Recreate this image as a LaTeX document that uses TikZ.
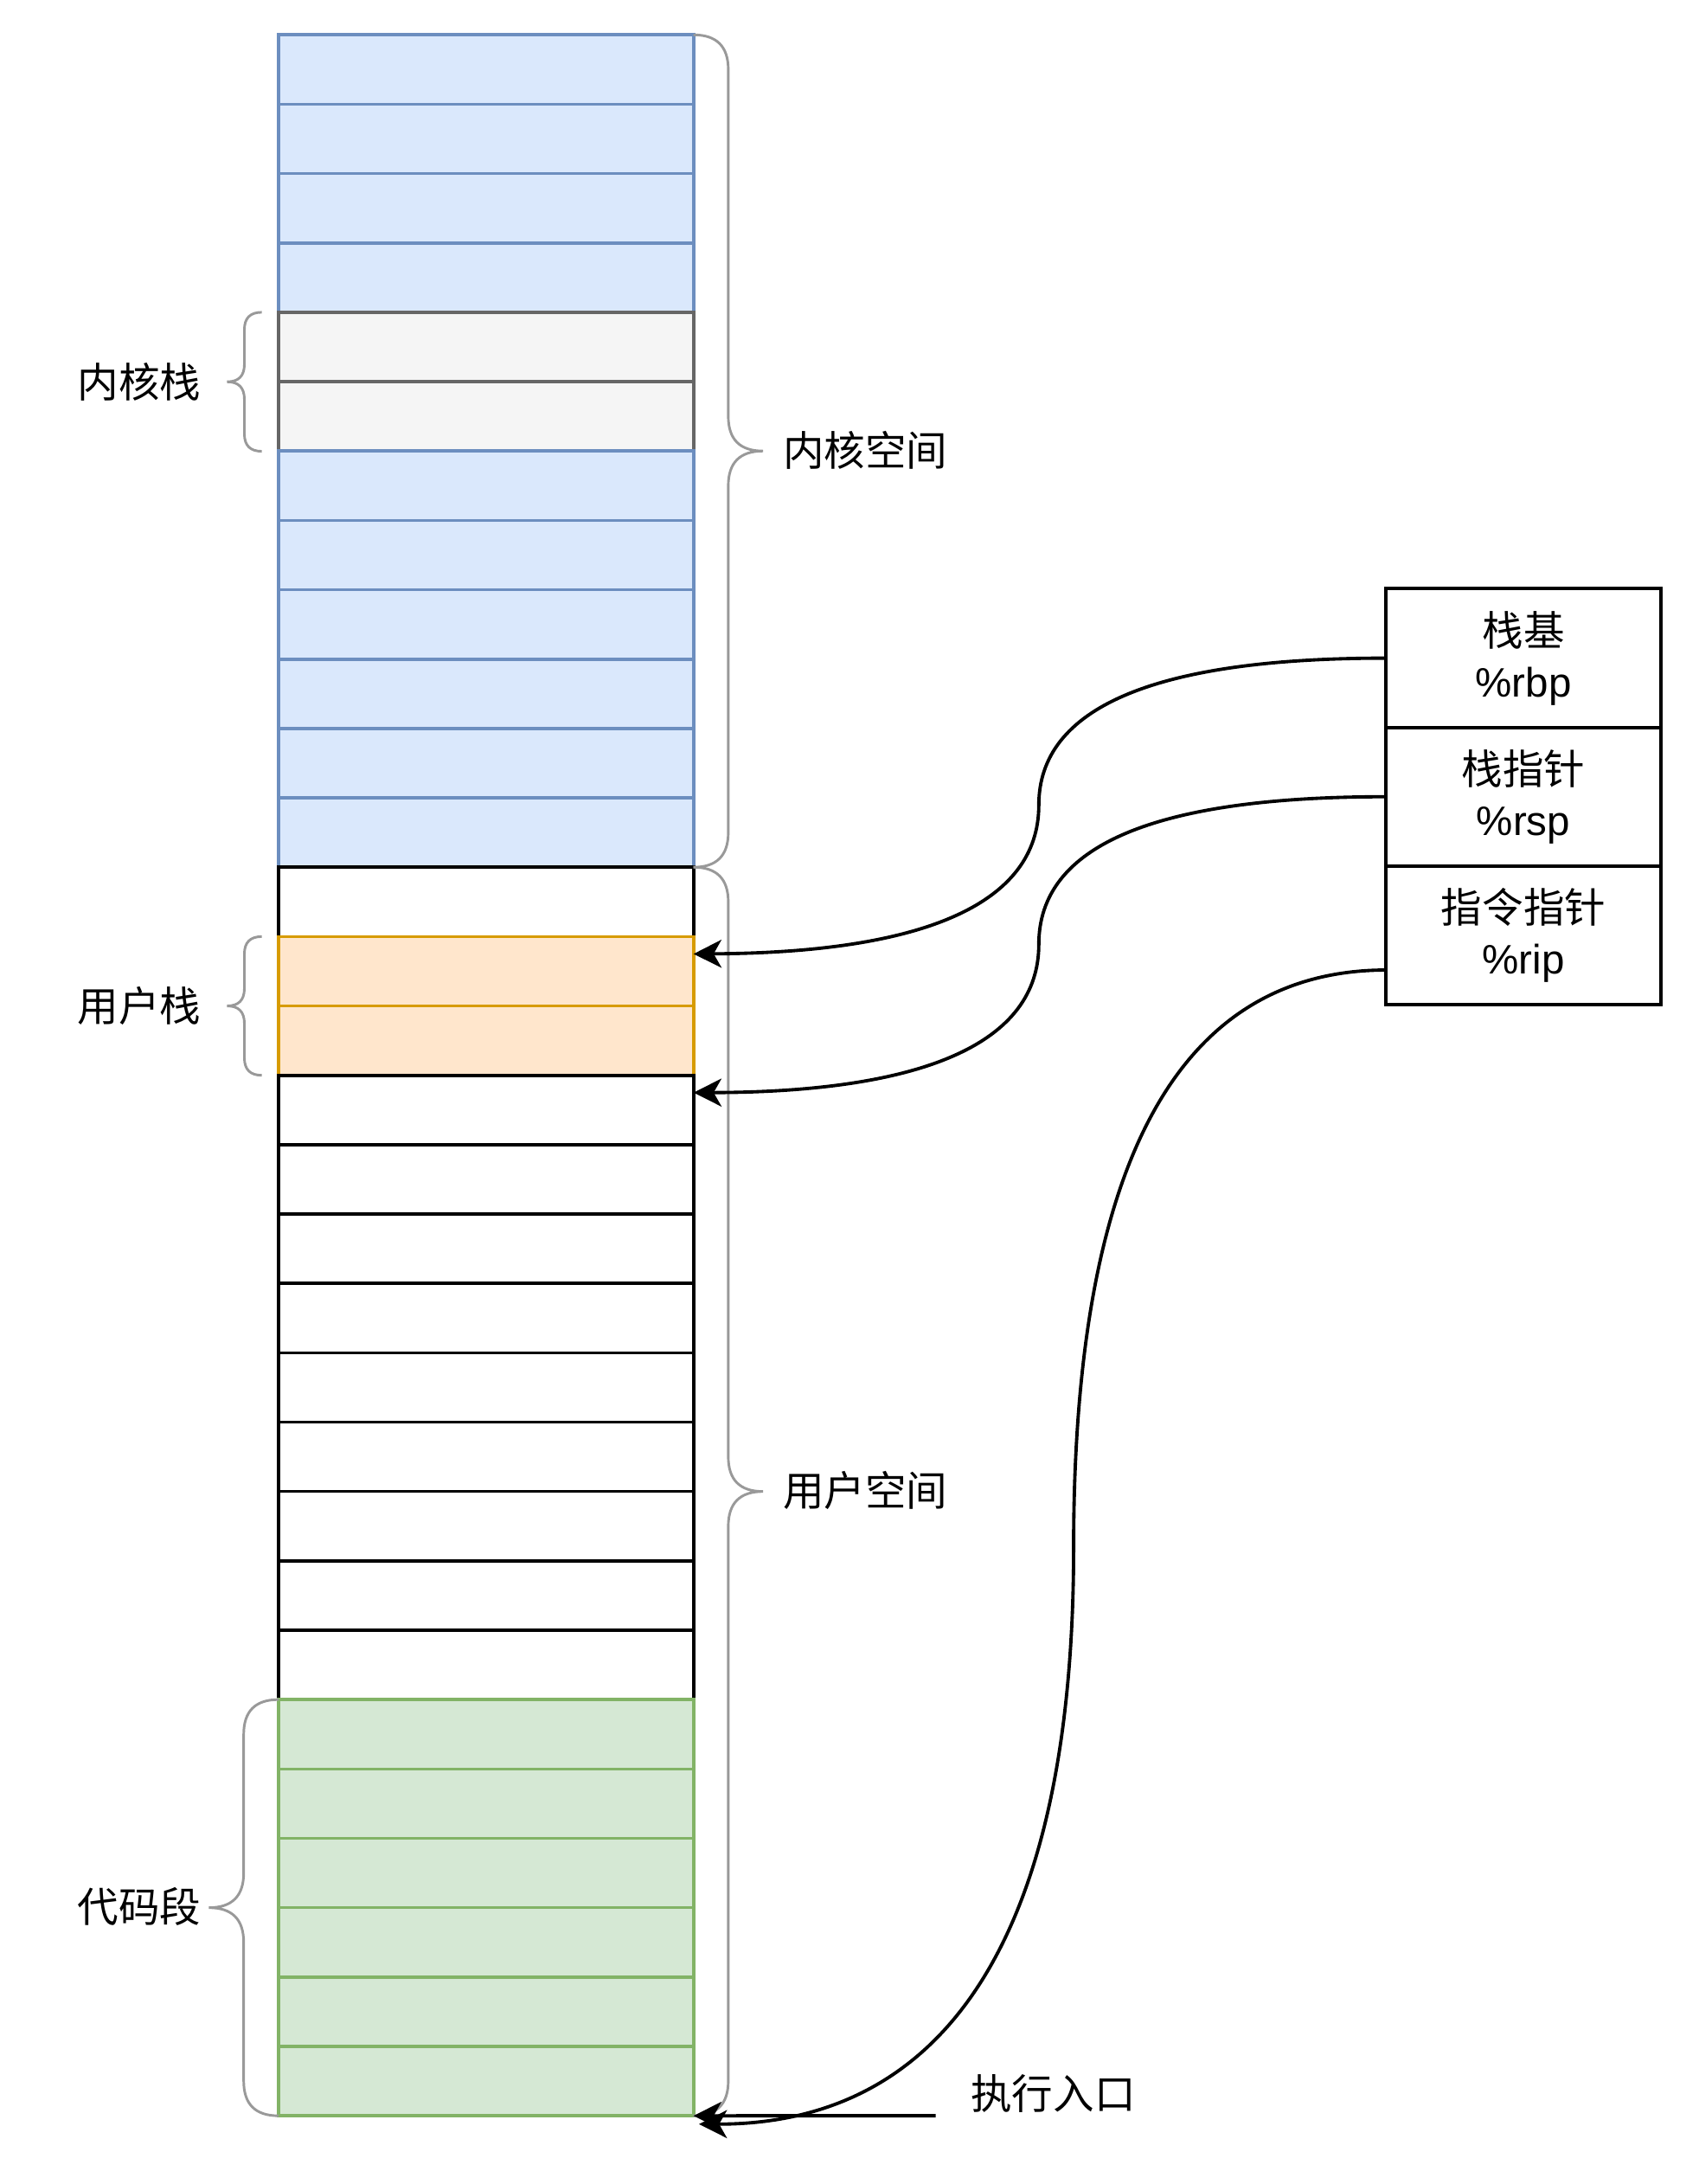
\documentclass[tikz,border=0pt]{standalone}
\usepackage{fontspec}
\setmainfont{Liberation Sans}
\newfontfamily\cjk{Noto Sans CJK SC}
\usetikzlibrary{arrows.meta,calc}

\definecolor{kfill}{HTML}{DAE8FC}
\definecolor{kline}{HTML}{6C8EBF}
\definecolor{gfill}{HTML}{F5F5F5}
\definecolor{gline}{HTML}{666666}
\definecolor{ofill}{HTML}{FFE6CC}
\definecolor{oline}{HTML}{D79B00}
\definecolor{cfill}{HTML}{D5E8D4}
\definecolor{cline}{HTML}{82B366}
\definecolor{brc}{HTML}{999999}

\tikzset{
	cell/.style={draw, line width=1.6pt, minimum width=7.45cm, minimum height=1.245cm,
		inner sep=0pt, outer sep=0pt, anchor=north west},
	kb/.style={fill=kfill, draw=kline},
	kg/.style={fill=gfill, draw=gline},
	uo/.style={fill=ofill, draw=oline},
	uw/.style={fill=white, draw=black},
	cg/.style={fill=cfill, draw=cline},
	reg/.style={draw, line width=1.8pt, minimum width=4.95cm, minimum height=2.49cm,
		inner sep=0pt, outer sep=0pt, align=center, font=\fontsize{21}{26}\selectfont},
	lbl/.style={inner sep=0pt, font=\cjk\fontsize{21}{26}\selectfont},
	bracket/.style={draw=brc, line width=1.3pt},
	arr/.style={-{Stealth[length=0.5cm,width=0.5cm,inset=0.14cm]}, line width=1.7pt},
}

% curly bracket: open x, tip x, top y, bottom y
\newcommand{\curly}[4]{%
	\pgfmathsetmacro\bxm{(#1+#2)/2}%
	\pgfmathsetmacro\bxw{abs(#2-#1)/2}%
	\pgfmathsetmacro\bxt{\bxw/3}%
	\pgfmathsetmacro\bxa{#1+2/3*(\bxm-#1)}%
	\pgfmathsetmacro\bxb{#2+2/3*(\bxm-#2)}%
	\pgfmathsetmacro\bym{(#3+#4)/2}%
	\draw[bracket] (#1,#3) .. controls (\bxa,#3) and (\bxm,#3+\bxt) .. (\bxm,#3+\bxw)
		-- (\bxm,\bym-\bxw) .. controls (\bxm,\bym-\bxt) and (\bxb,\bym) .. (#2,\bym)
		.. controls (\bxb,\bym) and (\bxm,\bym+\bxt) .. (\bxm,\bym+\bxw)
		-- (\bxm,#4-\bxw) .. controls (\bxm,#4-\bxt) and (\bxa,#4) .. (#1,#4);
}

\begin{document}
\begin{tikzpicture}[x=0.025cm, y=-0.025cm]
	\useasboundingbox (0,0) rectangle (1220,1568);

	% memory column
	\foreach \s [count=\i from 0] in {kb,kb,kb,kb,kg,kg,kb,kb,kb,kb,kb,kb,
		uw,uo,uo,uw,uw,uw,uw,uw,uw,uw,uw,uw,cg,cg,cg,cg,cg,cg}
		\node[cell,\s] (r\i) at (200,{25+49.8*\i}) {};

	% brackets
	\curly{498}{548}{25}{622.6}
	\curly{498}{548}{622.6}{1519}
	\curly{188}{163}{224.2}{324}
	\curly{188}{163}{672.4}{772}
	\curly{200}{150}{1220.2}{1519}

	\node[lbl] (kstack) at (100,274) {内核栈};
	\node[lbl] (ustack) at (100,722) {用户栈};
	\node[lbl] (code) at (100,1369) {代码段};
	\node[lbl, anchor=west] (kspace) at (562,323) {内核空间};
	\node[lbl, anchor=west] (uspace) at (562,1070) {用户空间};
	\node[lbl, anchor=west] (entry) at (697,1503) {执行入口};

	% registers
	\node[reg] (rbp) at (1094,472.5) {{\cjk 栈基}\\\%rbp};
	\node[reg] (rsp) at (1094,572) {{\cjk 栈指针}\\\%rsp};
	\node[reg] (rip) at (1094,671.5) {{\cjk 指令指针}\\\%rip};

	\coordinate (bpend) at ($(r13.north east)!0.25!(r13.south east)$);
	\coordinate (spend) at ($(r15.north east)!0.25!(r15.south east)$);
	\coordinate (ipstart) at ($(rip.west)!0.5!(rip.south west)$);
	\coordinate (ipend) at (502,1525);
	\coordinate (entrytail) at (672,1519);

	\draw[arr] (rbp.west) .. controls (829,472.5) and (746,508) .. (746,578)
		.. controls (746,649) and (663,684) .. (bpend);
	\draw[arr] (rsp.west) .. controls (829,572) and (746,607) .. (746,678)
		.. controls (746,749) and (663,784) .. (spend);
	\draw[arr] (ipstart) .. controls (846,697) and (771,835) .. (771,1111)
		.. controls (771,1387) and (681,1525) .. (ipend);
	\draw[arr] (entrytail) -- (r29.south east);
\end{tikzpicture}
\end{document}
